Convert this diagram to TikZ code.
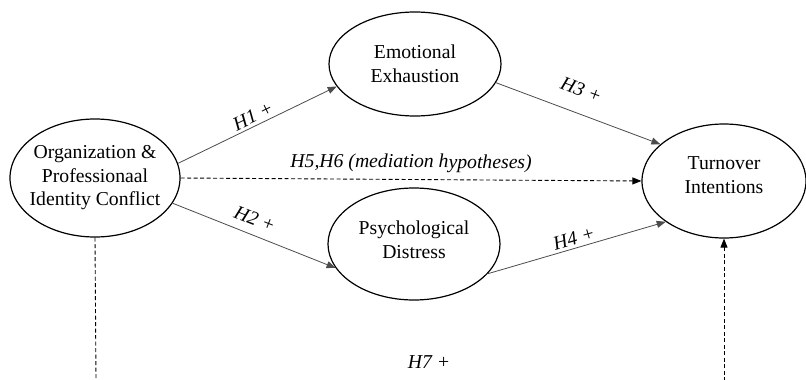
\documentclass[tikz,border=0pt]{standalone}
\usepackage{fontspec}
\setmainfont{Liberation Serif}
\usetikzlibrary{arrows.meta,shapes.geometric}
\begin{document}
\begin{tikzpicture}[x=1pt,y=-1pt,
  ell/.style={draw=black,line width=1.2pt,ellipse,inner sep=0pt},
  txt/.style={align=center,font=\fontsize{19.7}{23.5}\selectfont,inner sep=0pt},
  lab/.style={font=\fontsize{19.7}{23.5}\selectfont\itshape,sloped,above,inner sep=3pt},
  solidarrow/.style={draw=black!70,line width=0.8pt,-{Triangle[length=9pt,width=7pt]},shorten >=0pt},
  dasharrow/.style={draw=black,line width=0.9pt,dash pattern=on 4pt off 2.5pt},
  tip/.style={-{Triangle[length=9pt,width=7pt]}}]
\useasboundingbox (0,0) rectangle (806,380);
\fill[white] (0,0) rectangle (806,380);
% ellipses
\node[ell,minimum width=170pt,minimum height=118pt] (oc) at (95,178) {};
\node[ell,minimum width=172pt,minimum height=104pt] (ee) at (415,64) {};
\node[ell,minimum width=172pt,minimum height=112pt] (pd) at (414,244) {};
\node[ell,minimum width=164pt,minimum height=114pt] (ti) at (724,181) {};
% texts
\node[txt] (toc) at (95,178) {Organization \&\\Professionaal\\Identity Conflict};
\node[txt] (tee) at (415,64) {Emotional\\Exhaustion};
\node[txt] (tpd) at (414,240) {Psychological\\Distress};
\node[txt] (tti) at (724,175) {Turnover\\Intentions};
% connectors
\draw[solidarrow] (oc.10) -- node[lab] (h1) {H1 +} (ee.196);
\draw[solidarrow] (ee.-13) -- node[lab,above=13pt,pos=0.47] (h3) {H3 +} (ti.150);
\draw[solidarrow] (oc.-18) -- node[lab,above=6pt,pos=0.47] (h2) {H2 +} (pd.197);
\draw[solidarrow] (pd.-22) -- node[lab] (h4) {H4 +} (ti.215);
\draw[dasharrow,tip] (oc.east) -- node[lab,above=4pt] (h56) {H5,H6 (mediation hypotheses)} (ti.west);
% bottom dashed lines
\coordinate (lb) at (96,381);
\coordinate (rb) at (724,381);
\draw[dasharrow] (oc.south) -- (lb);
\draw[dasharrow,tip] (rb) -- (ti.south);
\node[font=\fontsize{19.7}{23.5}\selectfont\itshape] (h7) at (429,362) {H7 +};
\end{tikzpicture}
\end{document}
